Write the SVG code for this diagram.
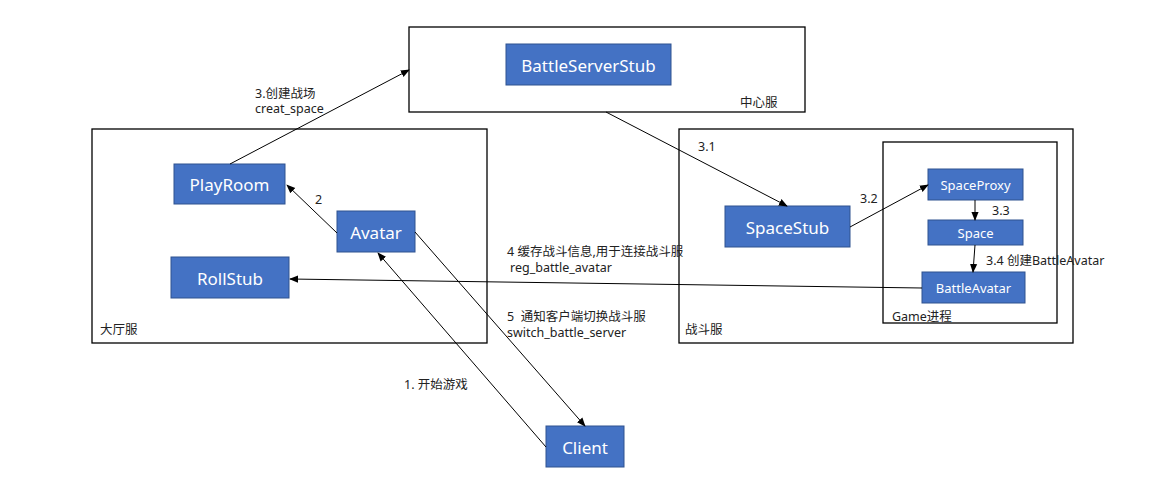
<svg xmlns="http://www.w3.org/2000/svg" width="1169" height="481" viewBox="0 0 1169 481">
<defs>
<style>
.frame{fill:none;stroke:#000;stroke-width:1.3}
.node rect{fill:#4472C4;stroke:#2F528F;stroke-width:1}
.node text{fill:#fff;font-family:"Noto Sans","Noto Sans CJK SC",sans-serif;text-anchor:middle;dominant-baseline:central}
.lbl{fill:#222;font-family:"Noto Sans","Noto Sans CJK SC",sans-serif;font-size:12.5px}
.conn line{stroke:#000;stroke-width:1;marker-end:url(#arr)}
</style>
<marker id="arr" viewBox="0 0 10 10" refX="9" refY="5" markerWidth="9" markerHeight="9" markerUnits="userSpaceOnUse" orient="auto">
<path d="M0,1 L10,5 L0,9 z" fill="#000"/>
</marker>
</defs>
<rect width="1169" height="481" fill="#fff"/>

<g id="center-server">
<rect class="frame" x="409" y="27" width="396" height="85"/>
<text class="lbl" x="740" y="107">中心服</text>
</g>
<g id="lobby-server">
<rect class="frame" x="92" y="129" width="395" height="214"/>
<text class="lbl" x="100" y="334">大厅服</text>
</g>
<g id="battle-server">
<rect class="frame" x="679" y="129" width="394" height="214"/>
<text class="lbl" x="685" y="334">战斗服</text>
</g>
<g id="game-process">
<rect class="frame" x="883" y="142" width="174" height="181"/>
<text class="lbl" x="892" y="321">Game进程</text>
</g>

<g id="BattleServerStub" class="node"><rect x="506" y="44" width="165" height="41"/><text x="588.5" y="65" font-size="17">BattleServerStub</text></g>
<g id="PlayRoom" class="node"><rect x="174" y="164" width="111" height="40"/><text x="229.5" y="184" font-size="17">PlayRoom</text></g>
<g id="Avatar" class="node"><rect x="337" y="211" width="78" height="41"/><text x="376" y="232" font-size="17">Avatar</text></g>
<g id="RollStub" class="node"><rect x="171" y="257" width="118" height="41"/><text x="230" y="278" font-size="17">RollStub</text></g>
<g id="SpaceStub" class="node"><rect x="725" y="206" width="125" height="41"/><text x="787.5" y="227" font-size="17">SpaceStub</text></g>
<g id="SpaceProxy" class="node"><rect x="928" y="169" width="95" height="31"/><text x="975.5" y="184.5" font-size="13">SpaceProxy</text></g>
<g id="Space" class="node"><rect x="928" y="220" width="95" height="25"/><text x="975.5" y="233" font-size="13">Space</text></g>
<g id="BattleAvatar" class="node"><rect x="922" y="272" width="103" height="31"/><text x="973.5" y="288" font-size="13">BattleAvatar</text></g>
<g id="Client" class="node"><rect x="546" y="426" width="78" height="41"/><text x="585" y="447" font-size="17">Client</text></g>

<g id="connectors" class="conn">
<line x1="230" y1="164" x2="409" y2="70"/>
<line x1="606" y1="112" x2="787" y2="206"/>
<line x1="850" y1="227" x2="928" y2="185"/>
<line x1="975" y1="200" x2="975" y2="220"/>
<line x1="975" y1="245" x2="973" y2="272"/>
<line x1="922" y1="288" x2="290" y2="279"/>
<line x1="337" y1="233" x2="287" y2="185"/>
<line x1="415" y1="232" x2="585" y2="426"/>
<line x1="546" y1="447" x2="378" y2="253"/>
</g>

<g id="labels">
<text class="lbl" x="255" y="98">3.创建战场</text>
<text class="lbl" x="255" y="113">creat_space</text>
<text class="lbl" x="698" y="151">3.1</text>
<text class="lbl" x="860" y="203">3.2</text>
<text class="lbl" x="992" y="215">3.3</text>
<text class="lbl" x="986" y="265">3.4 创建BattleAvatar</text>
<text class="lbl" x="507" y="256">4 缓存战斗信息,用于连接战斗服</text>
<text class="lbl" x="510" y="272">reg_battle_avatar</text>
<text class="lbl" x="315" y="204">2</text>
<text class="lbl" x="507" y="321" xml:space="preserve">5  通知客户端切换战斗服</text>
<text class="lbl" x="507" y="337">switch_battle_server</text>
<text class="lbl" x="404" y="389">1. 开始游戏</text>
</g>
</svg>
